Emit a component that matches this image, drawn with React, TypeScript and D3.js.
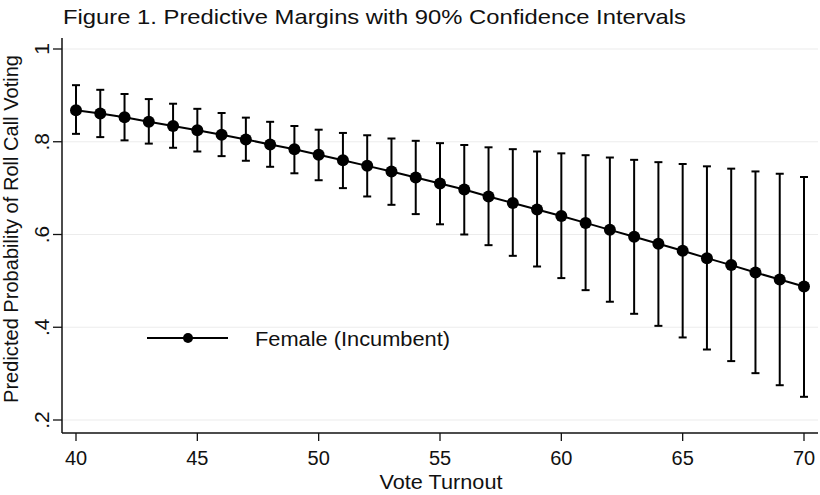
import React from "react";
import * as d3 from "d3";

const turnout = [40, 41, 42, 43, 44, 45, 46, 47, 48, 49, 50, 51, 52, 53, 54, 55, 56, 57, 58, 59, 60, 61, 62, 63, 64, 65, 66, 67, 68, 69, 70];
const margin = [0.868, 0.861, 0.853, 0.843, 0.834, 0.825, 0.815, 0.805, 0.794, 0.784, 0.772, 0.760, 0.748, 0.736, 0.723, 0.710, 0.697, 0.682, 0.668, 0.654, 0.640, 0.625, 0.610, 0.595, 0.580, 0.565, 0.549, 0.534, 0.518, 0.503, 0.488];
const upper = [0.922, 0.912, 0.903, 0.892, 0.882, 0.871, 0.862, 0.852, 0.843, 0.834, 0.826, 0.819, 0.814, 0.807, 0.802, 0.797, 0.793, 0.788, 0.784, 0.779, 0.775, 0.771, 0.766, 0.761, 0.756, 0.752, 0.747, 0.742, 0.736, 0.731, 0.724];
const lower = [0.817, 0.810, 0.803, 0.796, 0.787, 0.779, 0.769, 0.759, 0.746, 0.732, 0.717, 0.700, 0.682, 0.664, 0.644, 0.622, 0.600, 0.577, 0.554, 0.531, 0.506, 0.480, 0.455, 0.429, 0.403, 0.378, 0.352, 0.327, 0.301, 0.275, 0.250];
const yTicks = [0.2, 0.4, 0.6, 0.8, 1];
const yTickLabels = [".2", ".4", ".6", ".8", "1"];
const xTicks = [40, 45, 50, 55, 60, 65, 70];

const font = "Arial, 'Liberation Sans', sans-serif";

export default function App() {
  const W = 820;
  const H = 495;
  const left = 62;
  const right = 818;
  const bottom = 433;
  const top = 38;

  const x = d3.scaleLinear().domain([40, 70]).range([76, 804]);
  const y = d3.scaleLinear().domain([0.2, 1]).range([420, 49]);

  const rows = turnout.map((t, i) => ({ t, m: margin[i], hi: upper[i], lo: lower[i] }));
  const line = d3
    .line<{ t: number; m: number }>()
    .x((d) => x(d.t))
    .y((d) => y(d.m));

  return (
    <svg
      width={W}
      height={H}
      style={{ position: "absolute", left: 0, top: 0, background: "#fff" }}
      fontFamily={font}
    >
      <rect width={W} height={H} fill="#fff" />
      <text x={63} y={24} fontSize={21} fill="#111" textLength={623} lengthAdjust="spacingAndGlyphs">
        Figure 1. Predictive Margins with 90% Confidence Intervals
      </text>

      {/* grid */}
      {yTicks.map((v) => (
        <line key={"g" + v} x1={left} x2={right} y1={y(v)} y2={y(v)} stroke="#ececec" strokeWidth={1.2} />
      ))}

      {/* axes */}
      <line x1={left} x2={left} y1={top} y2={bottom} stroke="#111" strokeWidth={1.5} />
      <line x1={left} x2={right} y1={bottom} y2={bottom} stroke="#111" strokeWidth={1.5} />
      {yTicks.map((v, i) => (
        <g key={"y" + v}>
          <line x1={left - 9} x2={left} y1={y(v)} y2={y(v)} stroke="#111" strokeWidth={1.3} />
          <text
            transform={`translate(49,${y(v)}) rotate(-90)`}
            textAnchor="middle"
            fontSize={21}
            fill="#111"
          >
            {yTickLabels[i]}
          </text>
        </g>
      ))}
      {xTicks.map((v) => (
        <g key={"x" + v}>
          <line x1={x(v)} x2={x(v)} y1={bottom} y2={bottom + 8} stroke="#111" strokeWidth={1.3} />
          <text x={x(v)} y={465} textAnchor="middle" fontSize={20} fill="#111">
            {v}
          </text>
        </g>
      ))}
      <text x={441} y={489} textAnchor="middle" fontSize={20} fill="#111" textLength={123} lengthAdjust="spacingAndGlyphs">
        Vote Turnout
      </text>
      <text
        transform={`translate(18,229) rotate(-90)`}
        textAnchor="middle"
        fontSize={20}
        fill="#111"
        textLength={348}
        lengthAdjust="spacingAndGlyphs"
      >
        Predicted Probability of Roll Call Voting
      </text>

      {/* error bars */}
      {rows.map((d) => (
        <g key={"e" + d.t} stroke="#000" strokeWidth={2}>
          <line x1={x(d.t)} x2={x(d.t)} y1={y(d.hi)} y2={y(d.lo)} />
          <line x1={x(d.t) - 4} x2={x(d.t) + 4} y1={y(d.hi)} y2={y(d.hi)} />
          <line x1={x(d.t) - 4} x2={x(d.t) + 4} y1={y(d.lo)} y2={y(d.lo)} />
        </g>
      ))}
      <path d={line(rows) || ""} fill="none" stroke="#000" strokeWidth={2} />
      {rows.map((d) => (
        <circle key={"p" + d.t} cx={x(d.t)} cy={y(d.m)} r={6} fill="#000" />
      ))}

      {/* legend */}
      <line x1={147} x2={228} y1={338} y2={338} stroke="#000" strokeWidth={2} />
      <circle cx={188} cy={338} r={5} fill="#000" />
      <text x={255} y={346} fontSize={20} fill="#111" textLength={195} lengthAdjust="spacingAndGlyphs">
        Female (Incumbent)
      </text>
    </svg>
  );
}
